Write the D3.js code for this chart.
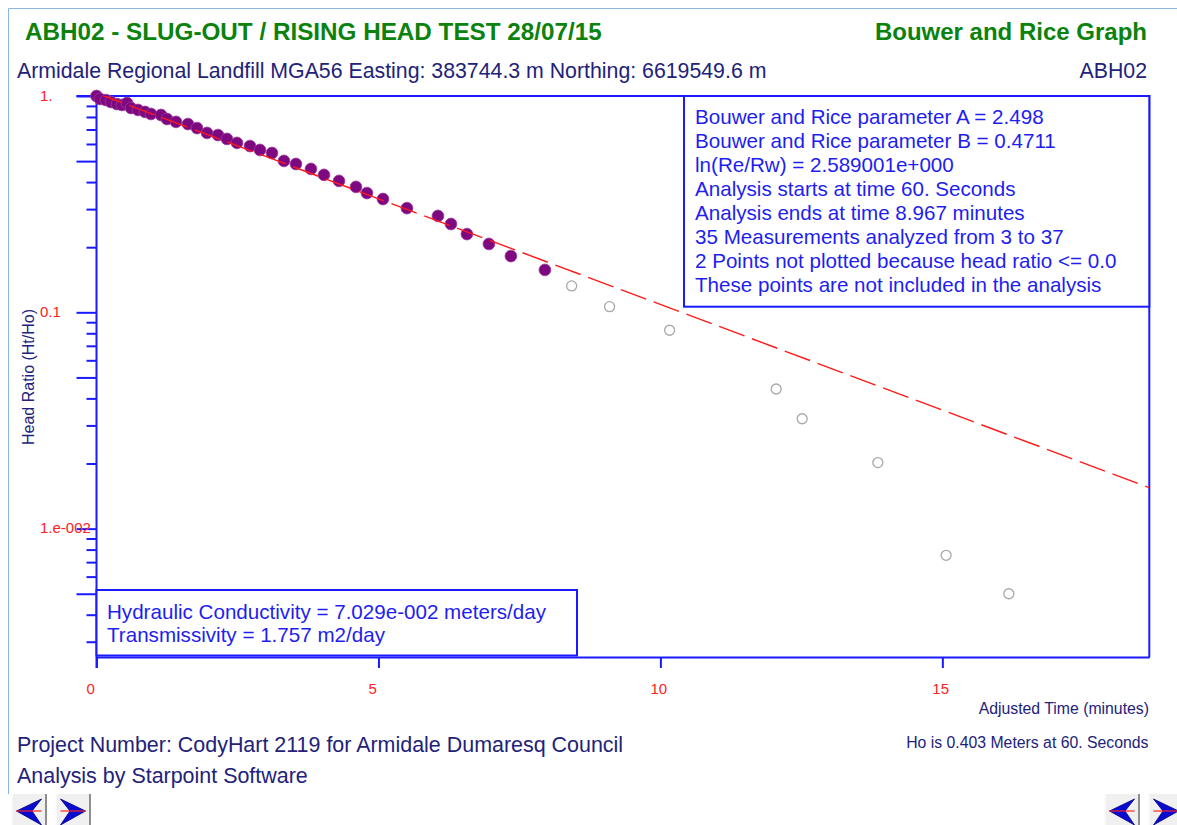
<!DOCTYPE html>
<html>
<head>
<meta charset="utf-8">
<script src="https://cdn.jsdelivr.net/npm/d3@7/dist/d3.min.js"></script>
<style>
  html, body { margin: 0; padding: 0; background: #ffffff; }
  svg { display: block; font-family: "Liberation Sans", Arial, sans-serif; }
</style>
</head>
<body>
<svg id="chart" width="1177" height="825"></svg>
<script>
// ---------------- data ----------------
const titleText = "ABH02 - SLUG-OUT / RISING HEAD TEST 28/07/15";
const graphName = "Bouwer and Rice Graph";
const siteText = "Armidale Regional Landfill MGA56 Easting: 383744.3 m Northing: 6619549.6 m";
const wellId = "ABH02";
const footerLines = ["Project Number: CodyHart 2119 for Armidale Dumaresq Council", "Analysis by Starpoint Software"];
const xAxisTitle = "Adjusted Time (minutes)";
const yAxisTitle = "Head Ratio (Ht/Ho)";
const hoNote = "Ho is 0.403 Meters at 60. Seconds";

const xDomain = [0, 18.67];
const yDomain = [0.00255, 1];
const xTickValues = [0, 5, 10, 15];
const xTickLabels = ["0", "5", "10", "15"];
const yLabelValues = [1, 0.1, 0.01];
const yTickLabels = ["1.", "0.1", "1.e-002"];
const yLongTicks = [1, 0.5, 0.1, 0.05, 0.01, 0.005];

// analysed measurements (filled)
const analyzedTime = [0, 0.062, 0.168, 0.257, 0.363, 0.452, 0.541, 0.612, 0.736, 0.860,
  0.966, 1.144, 1.250, 1.410, 1.622, 1.782, 1.960, 2.154, 2.314, 2.491,
  2.722, 2.899, 3.112, 3.324, 3.537, 3.803, 4.034, 4.300, 4.601, 4.796,
  5.080, 5.505, 6.055, 6.286, 6.569, 6.959, 7.349, 7.952];
const analyzedRatio = [1.0, 0.969, 0.958, 0.938, 0.918, 0.909, 0.928, 0.880, 0.862, 0.844,
  0.826, 0.817, 0.783, 0.759, 0.742, 0.711, 0.675, 0.660, 0.633, 0.607,
  0.587, 0.563, 0.545, 0.501, 0.485, 0.460, 0.432, 0.405, 0.380, 0.356,
  0.334, 0.303, 0.279, 0.256, 0.230, 0.207, 0.182, 0.157];
// later measurements not in analysis (open)
const excludedTime = [8.426, 9.099, 10.163, 12.053, 12.514, 13.856, 15.067, 16.179];
const excludedRatio = [0.1324, 0.1062, 0.0826, 0.0442, 0.0322, 0.0202, 0.00753, 0.00500];
// fitted straight line (end points)
const fitTime = [0, 18.67];
const fitRatio = [1.032, 0.01546];

const infoLines = [
  "Bouwer and Rice parameter A = 2.498",
  "Bouwer and Rice parameter B = 0.4711",
  "ln(Re/Rw) = 2.589001e+000",
  "Analysis starts at time 60. Seconds",
  "Analysis ends at time 8.967 minutes",
  "35 Measurements analyzed from 3 to 37",
  "2 Points not plotted because head ratio <= 0.0",
  "These points are not included in the analysis"
];
const resultLines = [
  "Hydraulic Conductivity = 7.029e-002 meters/day",
  "Transmissivity = 1.757 m2/day"
];

// ---------------- drawing ----------------
const svg = d3.select("#chart");
const plot = { left: 96.5, right: 1149.3, top: 96, bottom: 657 };
const AXIS = "#1a1aff";
const NAVY = "#22227a";
const BLUE = "#1e1ef0";
const RED = "#ff2222";
const GREEN = "#0b820b";

const x = d3.scaleLinear().domain(xDomain).range([plot.left, plot.right]);
const y = d3.scaleLog().domain(yDomain).range([plot.bottom, plot.top]);

// window frame (top and left edges)
svg.append("path").attr("d", "M8.5,794V8.5H1177")
  .attr("fill", "none").attr("stroke", "#8db6e2").attr("stroke-width", 1);

// titles
svg.append("text").attr("x", 25).attr("y", 39.5).attr("fill", GREEN)
  .attr("font-size", 24.25).attr("font-weight", "bold").text(titleText);
svg.append("text").attr("x", 1147).attr("y", 40).attr("text-anchor", "end").attr("fill", GREEN)
  .attr("font-size", 24).attr("font-weight", "bold").text(graphName);
svg.append("text").attr("x", 17).attr("y", 78).attr("fill", NAVY)
  .attr("font-size", 21.3).text(siteText);
svg.append("text").attr("x", 1147).attr("y", 78).attr("text-anchor", "end").attr("fill", NAVY)
  .attr("font-size", 21.3).text(wellId);

// plot frame (top and right)
svg.append("path")
  .attr("d", `M${plot.left - 20},${plot.top}H${plot.right}V${plot.bottom}`)
  .attr("fill", "none").attr("stroke", AXIS).attr("stroke-width", 2);

// y axis (log) ticks
const yAxis = d3.axisLeft(y)
  .tickValues(y.ticks().filter(v => v >= yDomain[0] && v <= 1))
  .tickFormat("")
  .tickSizeOuter(0);
const gy = svg.append("g").attr("transform", `translate(${plot.left},0)`).call(yAxis);
gy.select(".domain").remove();
gy.selectAll(".tick line")
  .attr("x2", d => yLongTicks.some(v => Math.abs(v - d) / v < 1e-6) ? -20 : -10)
  .attr("stroke", AXIS).attr("stroke-width", 2);
// y axis line
svg.append("line").attr("x1", plot.left).attr("x2", plot.left)
  .attr("y1", plot.top - 1).attr("y2", plot.bottom + 11)
  .attr("stroke", AXIS).attr("stroke-width", 2);
// y labels
svg.append("g").selectAll("text").data(yLabelValues).join("text")
  .attr("x", 40).attr("y", d => y(d) + 4.5)
  .attr("fill", RED).attr("font-size", 15)
  .text((d, i) => yTickLabels[i]);
svg.append("text")
  .attr("transform", `translate(33.5,377) rotate(-90)`)
  .attr("text-anchor", "middle").attr("fill", NAVY).attr("font-size", 16)
  .text(yAxisTitle);

// x axis
const xAxis = d3.axisBottom(x).tickValues(xTickValues).tickFormat("").tickSize(11).tickSizeOuter(0);
const gx = svg.append("g").attr("transform", `translate(0,${plot.bottom})`).call(xAxis);
gx.select(".domain").attr("stroke", AXIS).attr("stroke-width", 2);
gx.selectAll(".tick line").attr("stroke", AXIS).attr("stroke-width", 2);
svg.append("g").selectAll("text").data(xTickValues).join("text")
  .attr("x", d => x(d) - 10).attr("y", 694)
  .attr("fill", RED).attr("font-size", 15)
  .text((d, i) => xTickLabels[i]);
svg.append("text").attr("x", 1149).attr("y", 713.5).attr("text-anchor", "end")
  .attr("fill", NAVY).attr("font-size", 15.8).text(xAxisTitle);
svg.append("text").attr("x", 1148.5).attr("y", 747.7).attr("text-anchor", "end")
  .attr("fill", NAVY).attr("font-size", 15.8).text(hoNote);

// info box
svg.append("rect").attr("x", 684).attr("y", plot.top).attr("width", plot.right - 684).attr("height", 210.7)
  .attr("fill", "#ffffff").attr("stroke", AXIS).attr("stroke-width", 2);
svg.append("g").selectAll("text").data(infoLines).join("text")
  .attr("x", 695).attr("y", (d, i) => 124.3 + i * 24)
  .attr("fill", BLUE).attr("font-size", 20.6).text(d => d);

// results box
svg.append("rect").attr("x", plot.left).attr("y", 590).attr("width", 577 - plot.left).attr("height", 65.5)
  .attr("fill", "#ffffff").attr("stroke", AXIS).attr("stroke-width", 2);
svg.append("g").selectAll("text").data(resultLines).join("text")
  .attr("x", 107).attr("y", (d, i) => 618.5 + i * 23)
  .attr("fill", BLUE).attr("font-size", 20.6).text(d => d);

// excluded points
svg.append("g").selectAll("circle").data(excludedTime).join("circle")
  .attr("cx", d => x(d)).attr("cy", (d, i) => y(excludedRatio[i])).attr("r", 5)
  .attr("fill", "none").attr("stroke", "#a8a8a8").attr("stroke-width", 1.3);

// analysed points
svg.append("g").selectAll("circle").data(analyzedTime).join("circle")
  .attr("cx", d => x(d)).attr("cy", (d, i) => y(analyzedRatio[i])).attr("r", 5.9)
  .attr("fill", "#7e0880").attr("stroke", "#9a3a9c").attr("stroke-width", 0.8);

// fitted line (clipped to plot)
svg.append("clipPath").attr("id", "plotclip").append("rect")
  .attr("x", plot.left).attr("y", plot.top).attr("width", plot.right - plot.left).attr("height", plot.bottom - plot.top);
const line = d3.line().x(d => x(d[0])).y(d => y(d[1]));
svg.append("path")
  .datum(fitTime.map((t, i) => [t, fitRatio[i]]))
  .attr("d", line).attr("clip-path", "url(#plotclip)")
  .attr("fill", "none").attr("stroke", "#ff1a1a").attr("stroke-width", 1.4)
  .attr("stroke-dasharray", "27,8");

// footer
svg.append("g").selectAll("text").data(footerLines).join("text")
  .attr("x", 17).attr("y", (d, i) => 751.7 + i * 31.6)
  .attr("fill", NAVY).attr("font-size", 21.45).text(d => d);

// navigation buttons
function navButton(bx, bw, dir) {
  const g = svg.append("g");
  g.append("rect").attr("x", bx).attr("y", 794).attr("width", bw).attr("height", 35)
    .attr("fill", "#f0f0f0").attr("stroke", "none");
  g.append("line").attr("x1", bx + 0.5).attr("x2", bx + 0.5).attr("y1", 794).attr("y2", 825)
    .attr("stroke", "#ffffff").attr("stroke-width", 1);
  g.append("line").attr("x1", bx + bw - 0.5).attr("x2", bx + bw - 0.5).attr("y1", 794).attr("y2", 825)
    .attr("stroke", "#6d6d6d").attr("stroke-width", 1.5);
  const cx = bx + bw / 2, cy = 811;
  const s = dir < 0 ? 1 : -1;
  const tip = cx - 12.5 * s, back = cx + 12.5 * s, notch = cx + 3 * s;
  g.append("path")
    .attr("d", `M${tip},${cy} L${back},${cy - 12} L${notch},${cy} L${back},${cy + 14} Z`)
    .attr("fill", "#0a0ad0").attr("stroke", "#000080").attr("stroke-width", 0.8);
  g.append("line").attr("x1", Math.min(tip, back)).attr("x2", Math.max(tip, back))
    .attr("y1", cy).attr("y2", cy).attr("stroke", "#ff2020").attr("stroke-width", 1.2);
}
navButton(11.5, 35, -1);
navButton(55.5, 35, 1);
navButton(1104.5, 35, -1);
navButton(1148.5, 35, 1);
</script>
</body>
</html>
